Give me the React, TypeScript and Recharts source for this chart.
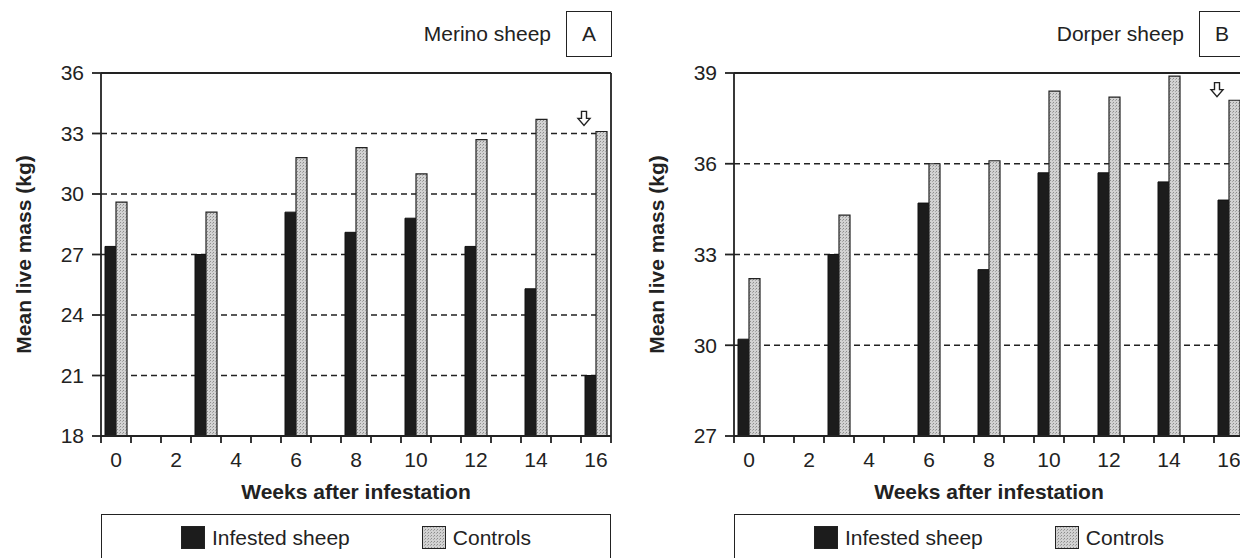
import React from 'react';
import {
  BarChart, Bar, XAxis, YAxis, CartesianGrid, ReferenceLine, ReferenceDot, Legend, Label,
} from 'recharts';

const axisWeeks = [0, 1, 2, 3, 4, 5, 6, 7, 8, 9, 10, 11, 12, 13, 14, 15, 16];
const weeks = [0, 3, 6, 8, 10, 12, 14, 16];
const merinoInfested = [27.4, 27.0, 29.1, 28.1, 28.8, 27.4, 25.3, 21.0];
const merinoControls = [29.6, 29.1, 31.8, 32.3, 31.0, 32.7, 33.7, 33.1];
const dorperInfested = [30.2, 33.0, 34.7, 32.5, 35.7, 35.7, 35.4, 34.8];
const dorperControls = [32.2, 34.3, 36.0, 36.1, 38.4, 38.2, 38.9, 38.1];

const seriesNames = ['Infested sheep', 'Controls'];
const weekLabels = [0, 2, 4, 6, 8, 10, 12, 14, 16];
const merinoTicks = [18, 21, 24, 27, 30, 33, 36];
const dorperTicks = [27, 30, 33, 36, 39];

// the small open arrow above the last controls bar
const arrowWeek = 16;
const merinoArrow = 33.75;
const dorperArrow = 38.45;

const FONT = "'Liberation Sans', Arial, Helvetica, sans-serif";
const INK = '#222';
const LINE = 1.8;

function Arrow(props: any) {
  const { cx, cy } = props;
  if (cx == null || cy == null) return null;
  const x = cx - 12;
  const d = `M ${x - 2.5} ${cy - 7} h 5 v 7 h 3.5 l -6 7 l -6 -7 h 3.5 z`;
  return <path d={d} fill='#fff' stroke={INK} strokeWidth={1.4} />;
}

// right frame line, carried 7px below the axis like the other week ticks
function RightFrame(props: any) {
  const { x1, y1, x2, y2 } = props;
  if (x1 == null) return null;
  return <line x1={x1} x2={x2} y1={Math.min(y1, y2)} y2={Math.max(y1, y2) + 7} stroke={INK} strokeWidth={LINE} />;
}

function LegendBox(props: any) {
  const items = [...(props.payload || [])].sort(
    (a: any, b: any) => seriesNames.indexOf(a.value) - seriesNames.indexOf(b.value));
  return (
    <div style={{
      border: `1.5px solid ${INK}`, height: 60, boxSizing: 'border-box', display: 'flex',
      justifyContent: 'center', alignItems: 'flex-start', paddingTop: 11, gap: 72, fontFamily: FONT,
    }}>
      {items.map((e: any) => (
        <div key={e.value} style={{ display: 'flex', alignItems: 'center', gap: 7 }}>
          <svg width={24} height={23} style={{ display: 'block' }}>
            <rect x={0.5} y={0.5} width={23} height={22} fill={e.color} stroke={INK} strokeWidth={1} />
          </svg>
          <span style={{ fontSize: 21, color: INK, lineHeight: '23px' }}>{e.value}</span>
        </div>
      ))}
    </div>
  );
}

interface PanelProps {
  id: string;
  left: number;
  title: string;
  letter: string;
  infested: number[];
  controls: number[];
  yTicks: number[];
  arrowY: number;
}

function Panel({ id, left, title, letter, infested, controls, yTicks, arrowY }: PanelProps) {
  const data = axisWeeks.map(w => {
    const i = weeks.indexOf(w);
    return { week: w, infested: i >= 0 ? infested[i] : null, controls: i >= 0 ? controls[i] : null };
  });
  const yMin = yTicks[0];
  const yMax = yTicks[yTicks.length - 1];
  const tickStyle = { fill: INK, fontSize: 21, fontFamily: FONT };

  return (
    <div style={{ position: 'absolute', left, top: 0, width: 620, height: 558 }}>
      <BarChart width={620} height={558} data={data} barGap={0}
        margin={{ top: 73, right: 9, bottom: 121, left: 0 }}>
        <defs>
          <pattern id={`stipple-${id}`} width={3} height={3} patternUnits='userSpaceOnUse'>
            <rect width={3} height={3} fill='#d2d2d2' />
            <rect x={0} y={0} width={1} height={1} fill='#8c8c8c' />
            <rect x={2} y={1} width={1} height={1} fill='#a8a8a8' />
          </pattern>
        </defs>
        <CartesianGrid vertical={false} stroke={INK} strokeWidth={1.4} strokeDasharray='6 4' />
        {/* tick marks shifted half a week left so they fall on the week boundaries */}
        <XAxis dataKey='week' interval={0} height={1} tickSize={7} tickMargin={9} tick={tickStyle}
          tickFormatter={(v: number) => (weekLabels.includes(v) ? String(v) : '')}
          tickLine={{ stroke: INK, strokeWidth: LINE, transform: 'translate(-15 0)' }}
          axisLine={{ stroke: INK, strokeWidth: LINE }}>
          <Label value='Weeks after infestation' position='bottom' offset={47}
            style={{ fontSize: 21, fontWeight: 700, fill: INK, fontFamily: FONT }} />
        </XAxis>
        <YAxis domain={[yMin, yMax]} ticks={yTicks} interval={0} width={101} tickSize={9} tickMargin={8}
          tick={tickStyle} axisLine={{ stroke: INK, strokeWidth: LINE }} tickLine={{ stroke: INK, strokeWidth: LINE }}>
          <Label value='Mean live mass (kg)' angle={-90} position='insideLeft' offset={24}
            style={{ fontSize: 21, fontWeight: 700, fill: INK, fontFamily: FONT, textAnchor: 'middle' }} />
        </YAxis>
        <Bar dataKey='infested' name={seriesNames[0]} barSize={11} fill='#1c1c1c' stroke='#111'
          strokeWidth={1} isAnimationActive={false} />
        <Bar dataKey='controls' name={seriesNames[1]} barSize={11} fill={`url(#stipple-${id})`} stroke={INK}
          strokeWidth={1.2} isAnimationActive={false} />
        <ReferenceLine y={yMax} stroke={INK} strokeWidth={LINE} />
        <ReferenceLine x={axisWeeks[axisWeeks.length - 1]} position='end' stroke={INK} strokeWidth={LINE}
          shape={(p: any) => <RightFrame {...p} />} />
        <ReferenceDot x={arrowWeek} y={arrowY} shape={<Arrow />} />
        <Legend layout='horizontal' verticalAlign='middle' align='center' content={<LegendBox />}
          wrapperStyle={{ position: 'absolute', left: 101, top: 514, width: 510, height: 60 }} />
      </BarChart>
      <div style={{
        position: 'absolute', left: 300, top: 11, width: 312, height: 46, display: 'flex',
        justifyContent: 'flex-end', alignItems: 'center', fontSize: 21, fontFamily: FONT, color: INK,
      }}>
        <span style={{ marginRight: 15 }}>{title}</span>
        <div style={{
          width: 46, height: 46, border: `1.5px solid ${INK}`, boxSizing: 'border-box', display: 'flex',
          alignItems: 'center', justifyContent: 'center',
        }}>{letter}</div>
      </div>
    </div>
  );
}

export default function App() {
  return (
    <div style={{ position: 'relative', width: 1240, height: 558, overflow: 'hidden', background: '#fff' }}>
      <style>{'body{margin:0}'}</style>
      <Panel id='a' left={0} title='Merino sheep' letter='A' infested={merinoInfested}
        controls={merinoControls} yTicks={merinoTicks} arrowY={merinoArrow} />
      <Panel id='b' left={633} title='Dorper sheep' letter='B' infested={dorperInfested}
        controls={dorperControls} yTicks={dorperTicks} arrowY={dorperArrow} />
    </div>
  );
}
